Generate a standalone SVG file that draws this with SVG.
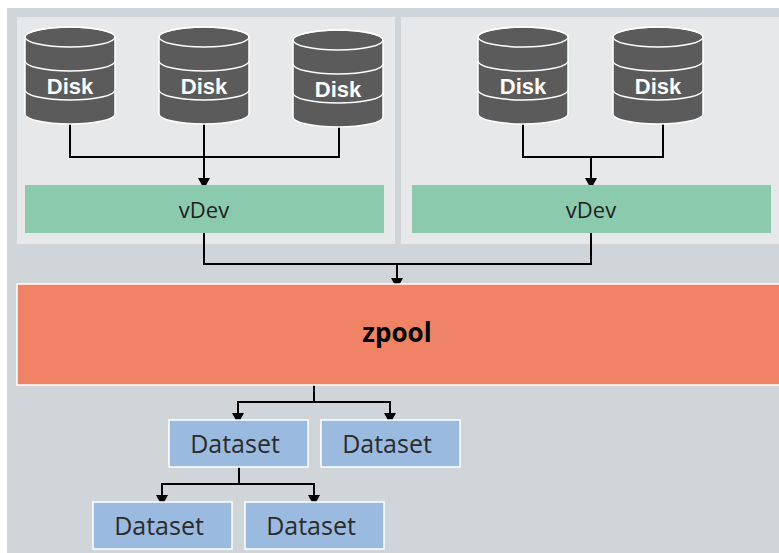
<svg xmlns="http://www.w3.org/2000/svg" width="779" height="553" viewBox="0 0 779 553">
<style>
.panel{fill:#e7e8ea}
.disk-body{fill:#5b5b5b;stroke:#ffffff;stroke-width:1.5}
.disk-line{fill:none;stroke:#ffffff;stroke-width:1.5}
.disk-text{font-family:"Liberation Sans",Arial,sans-serif;font-weight:bold;font-size:22px;fill:#ffffff;text-anchor:middle}
.vdev{fill:#8ccaae}
.vdev-text{font-family:"Open Sans","Noto Sans",sans-serif;font-size:22px;fill:#1e1e1e;text-anchor:middle}
.zpool{fill:#f08366;stroke:#ffffff;stroke-width:1.5}
.zpool-text{font-family:"Open Sans","Noto Sans",sans-serif;font-weight:bold;font-size:26px;fill:#000000;text-anchor:middle}
.ds{fill:#9bbae0;stroke:#ffffff;stroke-width:1.5}
.ds-text{font-family:"Open Sans","Noto Sans",sans-serif;font-size:25px;fill:#2b2b2b;text-anchor:middle}
.conn{fill:none;stroke:#000000;stroke-width:2}
</style>
<defs>
<marker id="arrow" markerUnits="userSpaceOnUse" markerWidth="11" markerHeight="12" refX="0" refY="6" orient="auto" overflow="visible">
<path d="M0,0 L11,6 L0,12 Z" fill="#000000"/>
</marker>
<g id="disk-shape">
<path class="disk-body" d="M-45,10 A45,10 0 0 1 45,10 L45,87 A45,10 0 0 1 -45,87 Z"/>
<ellipse class="disk-line" cx="0" cy="10" rx="45" ry="10"/>
<path class="disk-line" d="M-45,34 A45,10 0 0 0 45,34 M-45,63 A45,10 0 0 0 45,63"/>
</g>
</defs>
<rect x="0" y="0" width="779" height="553" fill="#ffffff"/>
<rect x="7" y="8" width="772" height="545" fill="#d0d5da"/>
<rect class="panel" x="17" y="17" width="378" height="227"/>
<rect class="panel" x="401" y="17" width="378" height="227"/>

<g id="connectors">
<path class="conn" d="M70,124 V157 H339 V127"/>
<path class="conn" d="M204,124 V178" marker-end="url(#arrow)"/>
<path class="conn" d="M523,124 V157 H663 V124"/>
<path class="conn" d="M591,157 V178" marker-end="url(#arrow)"/>
<path class="conn" d="M204,233 V264 H591 V233"/>
<path class="conn" d="M397,264 V278" marker-end="url(#arrow)"/>
<path class="conn" d="M314,385 V402"/>
<path class="conn" d="M238,413 V402 H390 V413"/>
<path class="conn" d="M238,402 V413" marker-end="url(#arrow)"/>
<path class="conn" d="M390,402 V413" marker-end="url(#arrow)"/>
<path class="conn" d="M239,467 V484"/>
<path class="conn" d="M162,495 V484 H314 V495"/>
<path class="conn" d="M162,484 V495" marker-end="url(#arrow)"/>
<path class="conn" d="M314,484 V495" marker-end="url(#arrow)"/>
</g>

<g id="disk1" transform="translate(70,27)"><use href="#disk-shape"/><text class="disk-text" x="0" y="67">Disk</text></g>
<g id="disk2" transform="translate(204,27)"><use href="#disk-shape"/><text class="disk-text" x="0" y="67">Disk</text></g>
<g id="disk3" transform="translate(338,30)"><use href="#disk-shape"/><text class="disk-text" x="0" y="67">Disk</text></g>
<g id="disk4" transform="translate(523,27)"><use href="#disk-shape"/><text class="disk-text" x="0" y="67">Disk</text></g>
<g id="disk5" transform="translate(658,27)"><use href="#disk-shape"/><text class="disk-text" x="0" y="67">Disk</text></g>

<g id="vdev1"><rect class="vdev" x="25" y="185" width="359" height="48"/><text class="vdev-text" x="204" y="218">vDev</text></g>
<g id="vdev2"><rect class="vdev" x="412" y="185" width="359" height="48"/><text class="vdev-text" x="591" y="218">vDev</text></g>

<g id="zpool"><rect class="zpool" x="17" y="284" width="770" height="101"/><text class="zpool-text" x="397" y="342">zpool</text></g>

<g id="dataset1"><rect class="ds" x="169" y="420" width="139" height="47"/><text class="ds-text" x="235" y="453">Dataset</text></g>
<g id="dataset2"><rect class="ds" x="321" y="420" width="139" height="47"/><text class="ds-text" x="387" y="453">Dataset</text></g>
<g id="dataset3"><rect class="ds" x="93" y="502" width="139" height="47"/><text class="ds-text" x="159" y="535">Dataset</text></g>
<g id="dataset4"><rect class="ds" x="245" y="502" width="139" height="47"/><text class="ds-text" x="311" y="535">Dataset</text></g>
</svg>
